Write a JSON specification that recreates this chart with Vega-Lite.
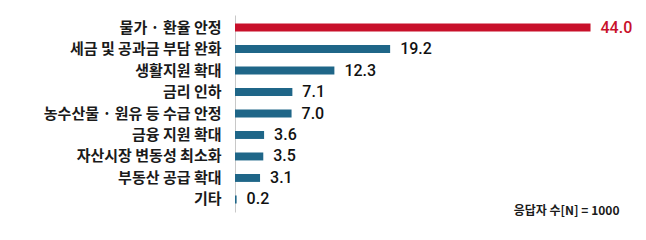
{
  "$schema": "https://vega.github.io/schema/vega-lite/v6.json",
  "autosize": "none",
  "padding": {"left": 235, "top": 15, "right": 7, "bottom": 28},
  "width": 404,
  "height": 197,
  "background": "white",
  "data": {
    "values": [
      {"label": "물가 · 환율 안정", "value": 44.0},
      {"label": "세금 및 공과금 부담 완화", "value": 19.2},
      {"label": "생활지원 확대", "value": 12.3},
      {"label": "금리 인하", "value": 7.1},
      {"label": "농수산물 · 원유 등 수급 안정", "value": 7.0},
      {"label": "금융 지원 확대", "value": 3.6},
      {"label": "자산시장 변동성 최소화", "value": 3.5},
      {"label": "부동산 공급 확대", "value": 3.1},
      {"label": "기타", "value": 0.2}
    ]
  },
  "encoding": {
    "y": {
      "field": "label",
      "type": "nominal",
      "sort": null,
      "scale": {"paddingInner": 0.63, "paddingOuter": 0.4},
      "axis": {
        "title": null,
        "ticks": false,
        "labelPadding": 14,
        "labelFont": "Noto Sans CJK KR",
        "labelFontSize": 15,
        "labelFontWeight": "bold",
        "labelColor": "#1a1a1a",
        "domainColor": "#c8c8c8",
        "domainWidth": 1
      }
    },
    "x": {
      "field": "value",
      "type": "quantitative",
      "scale": {"domain": [0, 50]},
      "axis": {
        "domain": false,
        "ticks": false,
        "labels": false,
        "grid": false,
        "title": "응답자 수[N] = 1000",
        "titleFont": "Noto Sans CJK KR",
        "titleFontSize": 12,
        "titleFontWeight": "bold",
        "titleColor": "#1a1a1a",
        "titleX": 384,
        "titleAlign": "right",
        "titleBaseline": "middle",
        "titleY": -2
      }
    }
  },
  "layer": [
    {
      "mark": {"type": "bar"},
      "encoding": {
        "color": {
          "condition": {"test": "datum.label === '물가 · 환율 안정'", "value": "#c8102a"},
          "value": "#1f6688"
        }
      }
    },
    {
      "mark": {
        "type": "text",
        "align": "left",
        "baseline": "middle",
        "dx": 10,
        "font": "Roboto",
        "fontWeight": 500,
        "fontSize": 16
      },
      "encoding": {
        "text": {"field": "value", "type": "quantitative", "format": ".1f"},
        "color": {
          "condition": {"test": "datum.label === '물가 · 환율 안정'", "value": "#c8102a"},
          "value": "#111111"
        }
      }
    }
  ],
  "config": {"view": {"stroke": null}}
}
